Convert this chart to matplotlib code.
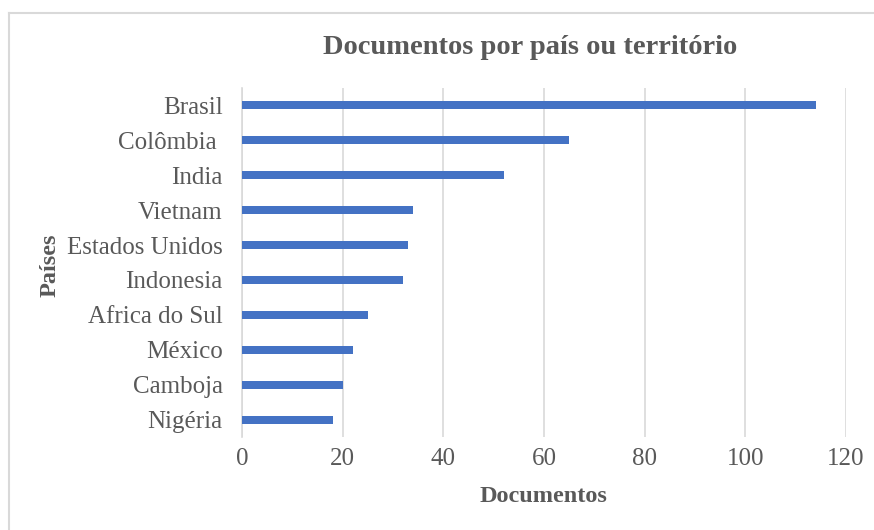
import matplotlib.pyplot as plt
from matplotlib.lines import Line2D

# data
paises = ['Brasil', 'Colômbia ', 'India', 'Vietnam', 'Estados Unidos',
          'Indonesia', 'Africa do Sul', 'México', 'Camboja', 'Nigéria']
documentos = [114, 65, 52, 34, 33, 32, 25, 22, 20, 18]
xticks = [0, 20, 40, 60, 80, 100, 120]

text_col = '#595959'
plt.rcParams['font.family'] = ['Liberation Serif', 'DejaVu Serif']

fig = plt.figure(figsize=(8.74, 5.3), dpi=100)
ax = fig.add_axes([242 / 874, 1 - 437 / 530, 604 / 874, 349 / 530])

pos = list(range(len(paises)))
ax.barh(pos, documentos, height=0.23, color='#4472C4', zorder=3)
ax.set_yticks(pos)
ax.set_yticklabels(paises, fontsize=18, color=text_col)
ax.set_ylim(len(paises) - 0.5, -0.5)
ax.set_xlim(0, 120)
ax.set_xticks(xticks)
ax.set_xticklabels([str(t) for t in xticks], fontsize=18, color=text_col)
ax.tick_params(length=0)
ax.tick_params(axis='x', pad=8)
ax.tick_params(axis='y', pad=14)

ax.grid(axis='x', color='#D9D9D9', lw=1.2, zorder=0)
for s in ['top', 'right', 'bottom']:
    ax.spines[s].set_visible(False)
ax.spines['left'].set_color('#D9D9D9')
ax.spines['left'].set_linewidth(1.2)

fig.text(530 / 874, 1 - 47 / 530, 'Documentos por país ou território',
         ha='center', va='center', fontsize=20.5, fontweight='bold', color=text_col)
fig.text(543 / 874, 1 - 497 / 530, 'Documentos', ha='center', va='center',
         fontsize=17.5, fontweight='bold', color=text_col)
fig.text(50 / 874, 1 - 265 / 530, 'Países', ha='center', va='center',
         rotation=90, fontsize=17.5, fontweight='bold', color=text_col)

# chart area frame (top and left edges)
fig.add_artist(Line2D([9 / 874, 9 / 874], [0, 1 - 13 / 530], color='#D9D9D9', lw=1.5))
fig.add_artist(Line2D([9 / 874, 1], [1 - 13 / 530, 1 - 13 / 530], color='#D9D9D9', lw=1.5))

fig.savefig('out.png', dpi=100)
